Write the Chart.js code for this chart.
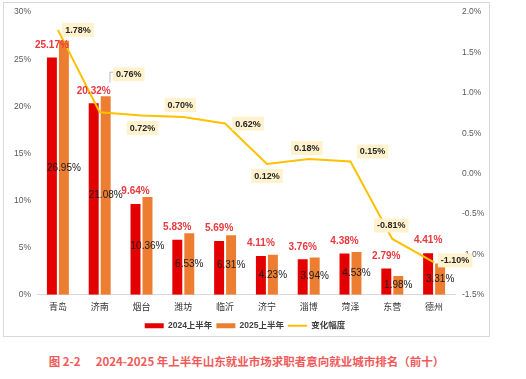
<!DOCTYPE html>
<html><head><meta charset="utf-8">
<script src="https://cdn.jsdelivr.net/npm/chart.js@4"></script>
<style>
html,body{margin:0;padding:0;background:#fff;width:526px;height:379px;overflow:hidden;}
#box{position:absolute;left:3px;top:2px;width:485px;height:333px;border:1px solid #d9d9d9;}
#c{position:absolute;left:0;top:0;}
#cap{position:absolute;left:3px;width:487px;top:353px;text-align:center;font:bold 11.5px "Noto Sans CJK SC";color:#F05A5A;white-space:pre;}
#cap .gap{display:inline-block;width:15px;}
</style></head><body>
<div id="box"></div>
<canvas id="c" width="490" height="343"></canvas>
<div id="cap">图 2-2<span class="gap"></span>2024-2025 年上半年山东就业市场求职者意向就业城市排名（前十）</div>
<script>
const cities = ['青岛','济南','烟台','潍坊','临沂','济宁','淄博','菏泽','东营','德州'];
const share2024 = [25.17,20.32,9.64,5.83,5.69,4.11,3.76,4.38,2.79,4.41];
const share2025 = [26.95,21.08,10.36,6.53,6.31,4.23,3.94,4.53,1.98,3.31];
const changeRate = [1.78,0.76,0.72,0.70,0.62,0.12,0.18,0.15,-0.81,-1.10];
const seriesNames = ['2024上半年','2025上半年','变化幅度'];
const leftTicks = [0,5,10,15,20,25,30];
const rightTicks = [-1.5,-1.0,-0.5,0.0,0.5,1.0,1.5,2.0];

const NUM = '"Liberation Sans","Noto Sans CJK SC",sans-serif';
const CJK = '"Noto Sans CJK SC","Liberation Sans",sans-serif';
const LINE_COLOR = '#FFC000';

const labelPlugin = {
  id: 'valueLabels',
  afterDatasetsDraw(chart, args, opts) {
    const ctx = chart.ctx;
    ctx.save();
    ctx.textAlign = 'center';
    ctx.textBaseline = 'middle';
    chart.getDatasetMeta(0).data.forEach((el, i) => {
      ctx.font = 'bold 10px ' + NUM;
      ctx.fillStyle = '#E8383D';
      ctx.fillText(share2024[i].toFixed(2) + '%', el.x, el.y - 12.5);
    });
    chart.getDatasetMeta(1).data.forEach((el, i) => {
      ctx.font = '10px ' + NUM;
      ctx.fillStyle = '#1a1a1a';
      ctx.fillText(share2025[i].toFixed(2) + '%', el.x, (el.y + el.base) / 2);
    });
    const offs = opts.offsets;
    chart.getDatasetMeta(2).data.forEach((el, i) => {
      const t = changeRate[i].toFixed(2) + '%';
      ctx.font = 'bold 9px ' + NUM;
      const w = ctx.measureText(t).width + 6;
      const h = 14;
      const cx = el.x + offs[i][0], cy = el.y + offs[i][1];
      if (i === 1) {
        ctx.strokeStyle = '#a6a6a6';
        ctx.lineWidth = 0.8;
        ctx.beginPath();
        ctx.moveTo(cx - w / 2 - 3, cy + 8);
        ctx.lineTo(cx - w / 2 - 3, cy - 2);
        ctx.lineTo(cx - w / 2, cy - 2);
        ctx.stroke();
      }
      ctx.fillStyle = '#FFF2CC';
      ctx.fillRect(cx - w / 2, cy - h / 2, w, h);
      ctx.fillStyle = '#262626';
      ctx.fillText(t, cx, cy + 0.5);
    });
    ctx.restore();
  }
};

new Chart(document.getElementById('c'), {
  data: {
    labels: cities,
    datasets: [
      { type: 'bar', label: seriesNames[0], data: share2024, backgroundColor: '#E50000', yAxisID: 'y', order: 1,
        barPercentage: 0.83, categoryPercentage: 0.574 },
      { type: 'bar', label: seriesNames[1], data: share2025, backgroundColor: '#ED7D31', yAxisID: 'y', order: 2,
        barPercentage: 0.83, categoryPercentage: 0.574 },
      { type: 'line', label: seriesNames[2], data: changeRate, borderColor: LINE_COLOR, backgroundColor: LINE_COLOR,
        borderWidth: 2, pointRadius: 0, tension: 0, yAxisID: 'y1', order: 0 }
    ]
  },
  options: {
    responsive: false,
    animation: false,
    layout: { padding: { top: 9, left: 0, right: 0, bottom: 3 } },
    scales: {
      x: {
        grid: { display: false, drawTicks: false },
        border: { display: true, color: '#d9d9d9' },
        ticks: { font: { size: 9, family: CJK }, color: '#333', padding: 6 }
      },
      y: {
        position: 'left',
        min: leftTicks[0], max: leftTicks[leftTicks.length - 1],
        grid: { display: false, drawTicks: false },
        border: { display: false },
        ticks: { stepSize: 5, padding: 6, font: { size: 8.5, family: NUM }, color: '#595959',
          callback: v => v + '%' },
        afterFit: s => { s.width = 37; }
      },
      y1: {
        position: 'right',
        min: rightTicks[0], max: rightTicks[rightTicks.length - 1],
        grid: { display: false, drawTicks: false },
        border: { display: false },
        ticks: { stepSize: 0.5, padding: 7, font: { size: 8.5, family: NUM }, color: '#595959',
          callback: v => v.toFixed(1) + '%' },
        afterFit: s => { s.width = 35; }
      }
    },
    plugins: {
      tooltip: { enabled: false },
      valueLabels: { offsets: [[20,0],[29,-38],[1,12.5],[-3,-12],[23,0],[0,12],[-2,-11],[22,-10],[-1,-13.5],[21,-2]] },
      legend: {
        position: 'bottom',
        labels: {
          usePointStyle: true, pointStyleWidth: 19, boxHeight: 5, padding: 4,
          font: { size: 8.5, weight: 'bold', family: NUM }, color: '#404040',
          generateLabels(chart) {
            const items = Chart.defaults.plugins.legend.labels.generateLabels(chart);
            items.sort((a, b) => a.datasetIndex - b.datasetIndex);
            items.forEach(it => {
              if (it.datasetIndex < 2) { it.pointStyle = 'rect'; it.lineWidth = 0; it.strokeStyle = 'rgba(0,0,0,0)'; }
              else { it.pointStyle = 'line'; it.lineWidth = 2; it.strokeStyle = LINE_COLOR; }
            });
            return items;
          }
        }
      }
    }
  },
  plugins: [labelPlugin]
});
</script>
</body></html>
